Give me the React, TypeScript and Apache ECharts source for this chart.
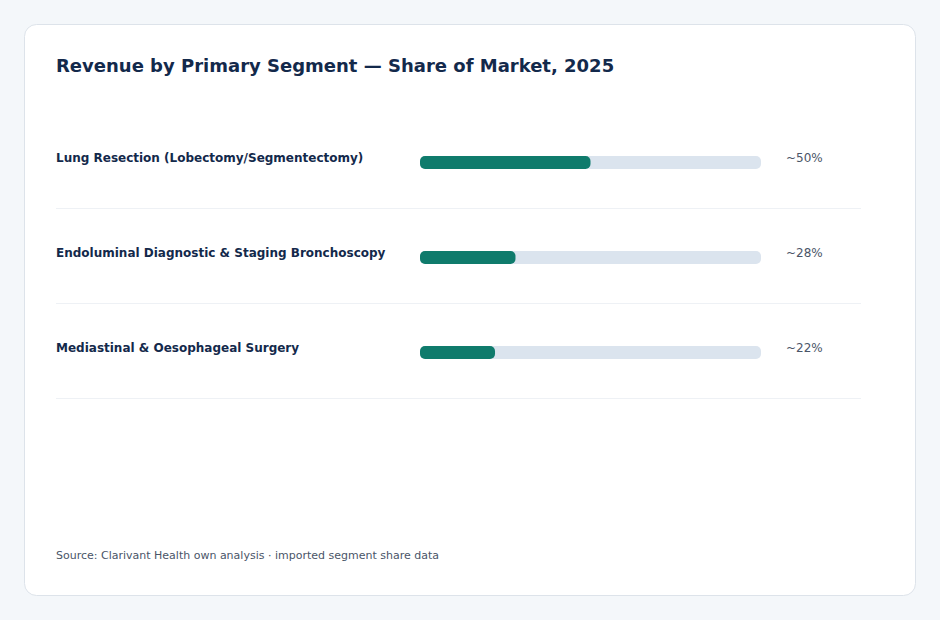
import React, { useEffect, useRef } from "react";
import * as echarts from "echarts";

const titleText = "Revenue by Primary Segment — Share of Market, 2025";
const sourceText = "Source: Clarivant Health own analysis · imported segment share data";
const categories = [
  "Lung Resection (Lobectomy/Segmentectomy)",
  "Endoluminal Diagnostic & Staging Bronchoscopy",
  "Mediastinal & Oesophageal Surgery",
];
const shares = [50, 28, 22];
const shareLabels = ["~50%", "~28%", "~22%"];

const FONT = "'DejaVu Sans', Verdana, sans-serif";

export default function App() {
  const ref = useRef<HTMLDivElement>(null);
  useEffect(() => {
    if (!ref.current) return;
    const chart = echarts.init(ref.current, null, { renderer: "svg" });
    chart.setOption({
      animation: false,
      backgroundColor: "#f4f7fa",
      textStyle: { fontFamily: FONT },
      title: {
        text: titleText,
        left: 56,
        top: 56,
        padding: 0,
        textStyle: { fontFamily: FONT, fontSize: 18, fontWeight: "bold", color: "#13294b" },
      },
      graphic: [
        {
          type: "rect",
          z: -100,
          silent: true,
          shape: { x: 24.5, y: 24.5, width: 891, height: 571, r: 12 },
          style: { fill: "#ffffff", stroke: "#dde3ea", lineWidth: 1 },
        },
        {
          type: "text",
          left: 56,
          top: 550,
          silent: true,
          style: { text: sourceText, fontFamily: FONT, fontSize: 11, fill: "#4a5568" },
        },
      ],
      grid: [
        { left: 420, right: 179, top: 115, bottom: 220 },
        { left: 56, right: 79, top: 113, bottom: 222 },
      ],
      xAxis: [
        { gridIndex: 0, type: "value", min: 0, max: 100, show: false },
        { gridIndex: 1, type: "value", min: 0, max: 1, show: false },
      ],
      yAxis: [
        {
          gridIndex: 0,
          type: "category",
          data: categories,
          inverse: true,
          axisLine: { show: false },
          axisTick: { show: false },
          splitLine: { show: false },
          axisLabel: {
            align: "left",
            verticalAlign: "bottom",
            lineHeight: 10,
            margin: 364,
            fontFamily: FONT,
            fontSize: 12,
            fontWeight: "bold",
            color: "#13294b",
          },
        },
        {
          gridIndex: 0,
          type: "category",
          position: "right",
          data: shareLabels,
          inverse: true,
          axisLine: { show: false },
          axisTick: { show: false },
          splitLine: { show: false },
          axisLabel: {
            align: "left",
            verticalAlign: "bottom",
            lineHeight: 10,
            margin: 25,
            fontFamily: FONT,
            fontSize: 12,
            color: "#4a5568",
          },
        },
        {
          gridIndex: 1,
          type: "category",
          data: categories,
          inverse: true,
          axisLine: { show: false },
          axisTick: { show: false },
          axisLabel: { show: false },
          splitLine: {
            show: true,
            interval: (i: number) => i !== 0,
            lineStyle: { color: "#eef1f5", width: 1 },
          },
        },
      ],
      series: [
        {
          type: "bar",
          xAxisIndex: 0,
          yAxisIndex: 0,
          data: shares,
          barWidth: 13,
          itemStyle: { color: "#0f7b6c", borderRadius: 5 },
          showBackground: true,
          backgroundStyle: { color: "#dbe4ee", borderRadius: 5 },
        },
      ],
    });
    return () => chart.dispose();
  }, []);
  return (
    <div
      ref={ref}
      style={{ position: "fixed", left: 0, top: 0, width: 940, height: 620 }}
    />
  );
}
